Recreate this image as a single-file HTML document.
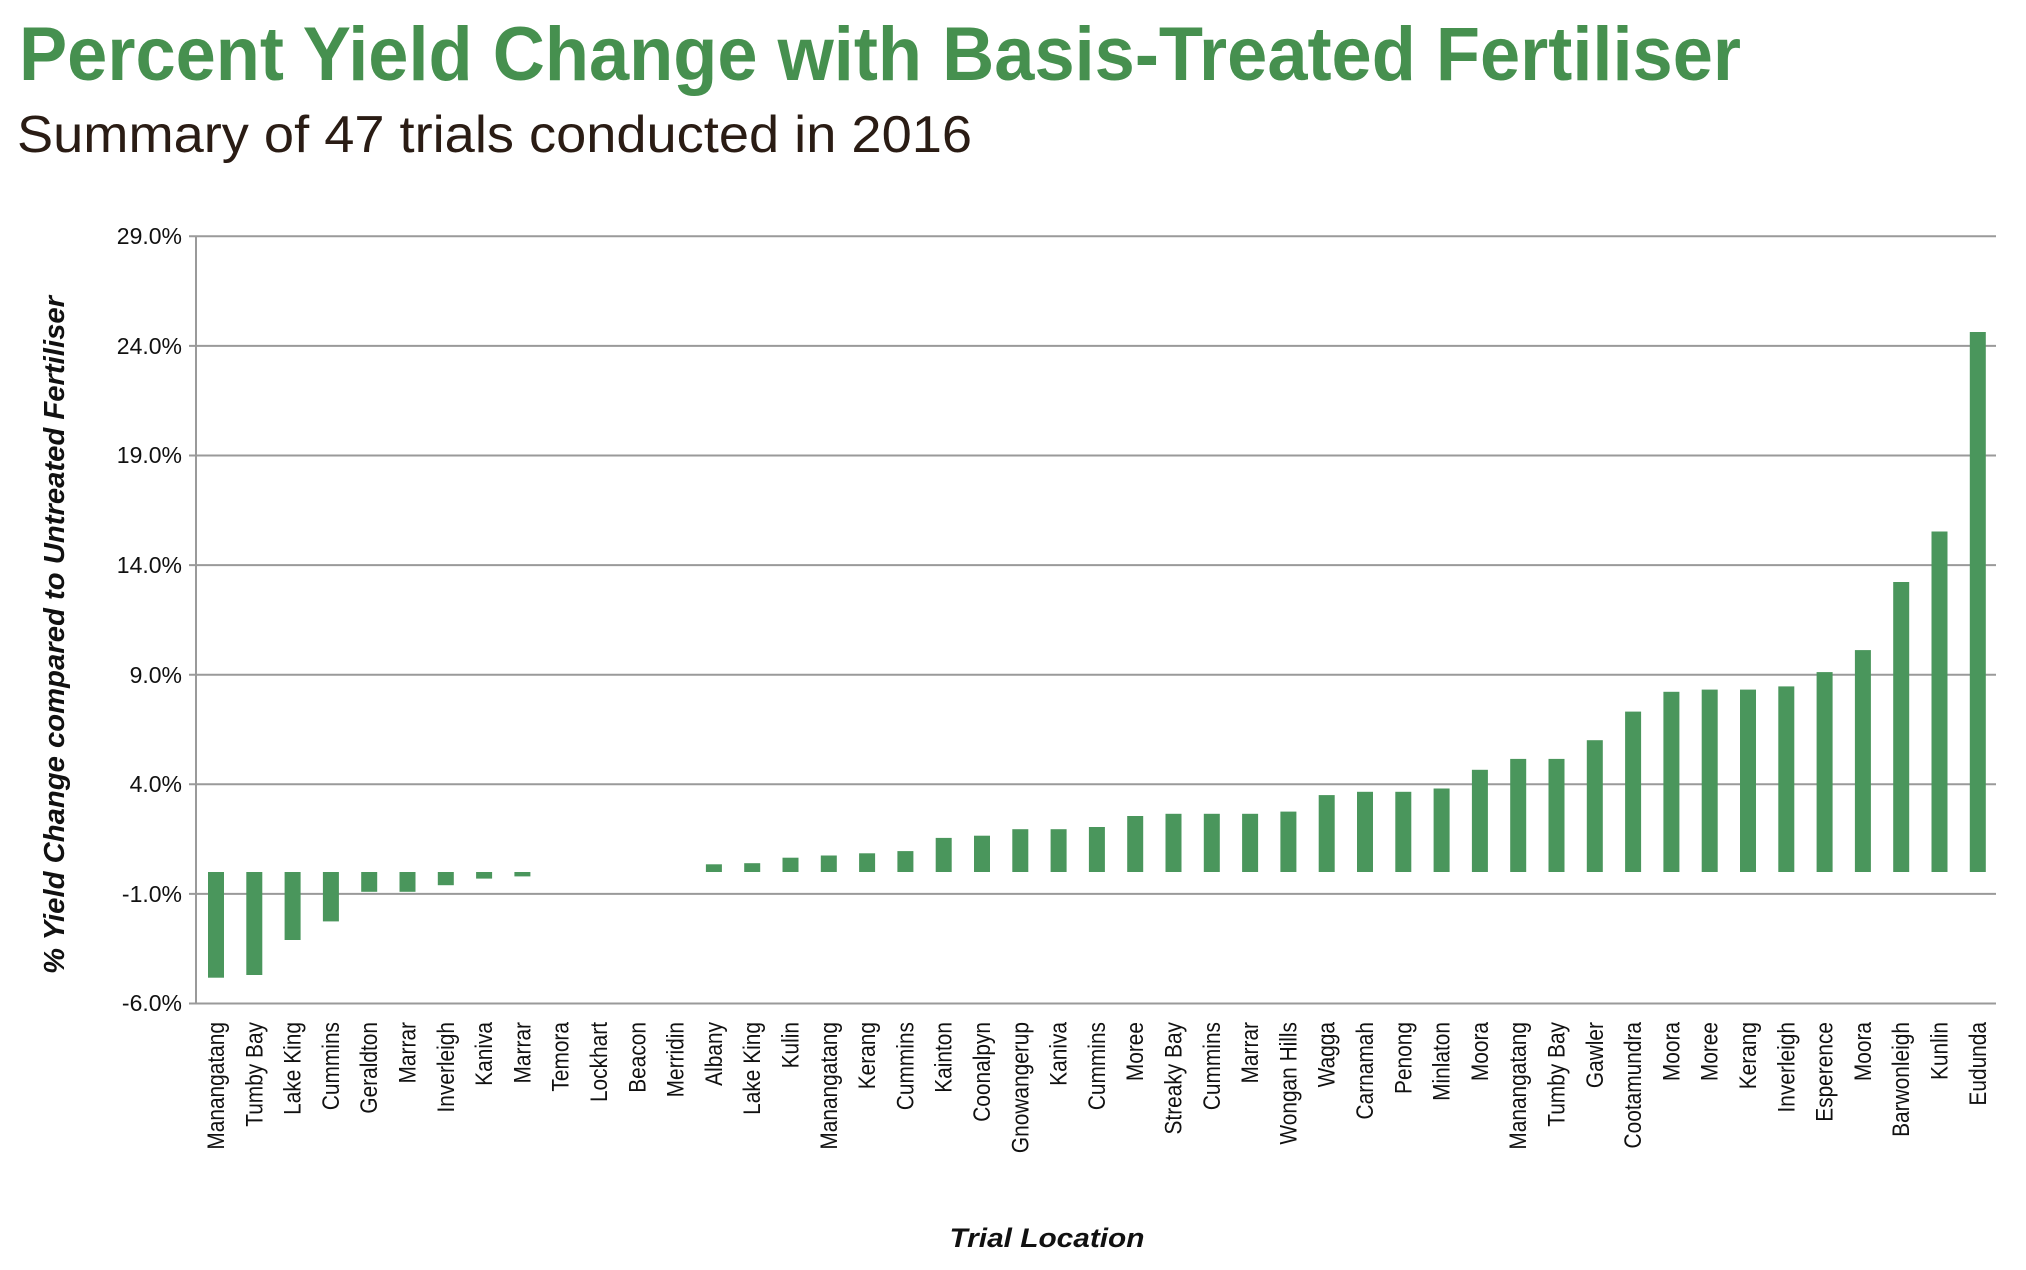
<!DOCTYPE html>
<html><head><meta charset="utf-8"><style>
html,body{margin:0;padding:0;background:#fff;}
svg{display:block;font-family:"Liberation Sans",Arial,sans-serif;}
</style></head><body>
<svg width="2026" height="1270" viewBox="0 0 2026 1270" xmlns="http://www.w3.org/2000/svg">
<text x="19" y="80" font-size="76" font-weight="bold" fill="#46904f" textLength="1722" lengthAdjust="spacingAndGlyphs">Percent Yield Change with Basis-Treated Fertiliser</text>
<text x="17" y="152" font-size="52" fill="#2a1c14" textLength="955" lengthAdjust="spacingAndGlyphs">Summary of 47 trials conducted in 2016</text>
<g stroke="#9a9a9a" stroke-width="2">
<line x1="189" x2="1996" y1="236.3" y2="236.3"/>
<line x1="189" x2="1996" y1="345.9" y2="345.9"/>
<line x1="189" x2="1996" y1="455.5" y2="455.5"/>
<line x1="189" x2="1996" y1="565.1" y2="565.1"/>
<line x1="189" x2="1996" y1="674.7" y2="674.7"/>
<line x1="189" x2="1996" y1="784.3" y2="784.3"/>
<line x1="189" x2="1996" y1="893.9" y2="893.9"/>
<line x1="189" x2="1996" y1="1003.5" y2="1003.5"/>
<line x1="196" x2="196" y1="236" y2="1004"/>
</g>
<g font-size="23" fill="#111" text-anchor="end">
<text x="182" y="244">29.0%</text>
<text x="182" y="354">24.0%</text>
<text x="182" y="463">19.0%</text>
<text x="182" y="573">14.0%</text>
<text x="182" y="683">9.0%</text>
<text x="182" y="792">4.0%</text>
<text x="182" y="902">-1.0%</text>
<text x="182" y="1011">-6.0%</text>
</g>
<g fill="#4a965c">
<rect x="208" y="872" width="16" height="105.7"/>
<rect x="246.3" y="872" width="16" height="103"/>
<rect x="284.6" y="872" width="16" height="68"/>
<rect x="322.9" y="872" width="16" height="49.4"/>
<rect x="361.2" y="872" width="16" height="19.8"/>
<rect x="399.5" y="872" width="16" height="19.8"/>
<rect x="437.8" y="872" width="16" height="13.2"/>
<rect x="476.1" y="872" width="16" height="6.6"/>
<rect x="514.4" y="872" width="16" height="4.4"/>
<rect x="705.9" y="864.3" width="16" height="7.7"/>
<rect x="744.2" y="863.2" width="16" height="8.8"/>
<rect x="782.5" y="857.7" width="16" height="14.3"/>
<rect x="820.8" y="855.5" width="16" height="16.5"/>
<rect x="859.1" y="853.3" width="16" height="18.7"/>
<rect x="897.4" y="851.1" width="16" height="20.9"/>
<rect x="935.7" y="837.9" width="16" height="34.1"/>
<rect x="974" y="835.7" width="16" height="36.3"/>
<rect x="1012.3" y="829.2" width="16" height="42.8"/>
<rect x="1050.6" y="829.2" width="16" height="42.8"/>
<rect x="1088.9" y="827" width="16" height="45"/>
<rect x="1127.2" y="816" width="16" height="56"/>
<rect x="1165.5" y="813.8" width="16" height="58.2"/>
<rect x="1203.8" y="813.8" width="16" height="58.2"/>
<rect x="1242.1" y="813.8" width="16" height="58.2"/>
<rect x="1280.4" y="811.6" width="16" height="60.4"/>
<rect x="1318.7" y="795.1" width="16" height="76.9"/>
<rect x="1357" y="791.8" width="16" height="80.2"/>
<rect x="1395.3" y="791.8" width="16" height="80.2"/>
<rect x="1433.6" y="788.5" width="16" height="83.5"/>
<rect x="1471.9" y="769.8" width="16" height="102.2"/>
<rect x="1510.2" y="758.9" width="16" height="113.1"/>
<rect x="1548.5" y="758.9" width="16" height="113.1"/>
<rect x="1586.8" y="740.2" width="16" height="131.8"/>
<rect x="1625.1" y="711.6" width="16" height="160.4"/>
<rect x="1663.4" y="691.8" width="16" height="180.2"/>
<rect x="1701.7" y="689.6" width="16" height="182.4"/>
<rect x="1740" y="689.6" width="16" height="182.4"/>
<rect x="1778.3" y="686.4" width="16" height="185.6"/>
<rect x="1816.6" y="672.1" width="16" height="199.9"/>
<rect x="1854.9" y="650.1" width="16" height="221.9"/>
<rect x="1893.2" y="582" width="16" height="290"/>
<rect x="1931.5" y="531.5" width="16" height="340.5"/>
<rect x="1969.8" y="332" width="16" height="540"/>
</g>
<g font-size="24" fill="#111" text-anchor="end">
<text transform="translate(224,1022) rotate(-90) scale(0.87,1)">Manangatang</text>
<text transform="translate(262.3,1022) rotate(-90) scale(0.87,1)">Tumby Bay</text>
<text transform="translate(300.6,1022) rotate(-90) scale(0.87,1)">Lake King</text>
<text transform="translate(338.9,1022) rotate(-90) scale(0.87,1)">Cummins</text>
<text transform="translate(377.2,1022) rotate(-90) scale(0.87,1)">Geraldton</text>
<text transform="translate(415.5,1022) rotate(-90) scale(0.87,1)">Marrar</text>
<text transform="translate(453.8,1022) rotate(-90) scale(0.87,1)">Inverleigh</text>
<text transform="translate(492.1,1022) rotate(-90) scale(0.87,1)">Kaniva</text>
<text transform="translate(530.4,1022) rotate(-90) scale(0.87,1)">Marrar</text>
<text transform="translate(568.7,1022) rotate(-90) scale(0.87,1)">Temora</text>
<text transform="translate(607,1022) rotate(-90) scale(0.87,1)">Lockhart</text>
<text transform="translate(645.3,1022) rotate(-90) scale(0.87,1)">Beacon</text>
<text transform="translate(683.6,1022) rotate(-90) scale(0.87,1)">Merridin</text>
<text transform="translate(721.9,1022) rotate(-90) scale(0.87,1)">Albany</text>
<text transform="translate(760.2,1022) rotate(-90) scale(0.87,1)">Lake King</text>
<text transform="translate(798.5,1022) rotate(-90) scale(0.87,1)">Kulin</text>
<text transform="translate(836.8,1022) rotate(-90) scale(0.87,1)">Manangatang</text>
<text transform="translate(875.1,1022) rotate(-90) scale(0.87,1)">Kerang</text>
<text transform="translate(913.4,1022) rotate(-90) scale(0.87,1)">Cummins</text>
<text transform="translate(951.7,1022) rotate(-90) scale(0.87,1)">Kainton</text>
<text transform="translate(990,1022) rotate(-90) scale(0.87,1)">Coonalpyn</text>
<text transform="translate(1028.3,1022) rotate(-90) scale(0.87,1)">Gnowangerup</text>
<text transform="translate(1066.6,1022) rotate(-90) scale(0.87,1)">Kaniva</text>
<text transform="translate(1104.9,1022) rotate(-90) scale(0.87,1)">Cummins</text>
<text transform="translate(1143.2,1022) rotate(-90) scale(0.87,1)">Moree</text>
<text transform="translate(1181.5,1022) rotate(-90) scale(0.87,1)">Streaky Bay</text>
<text transform="translate(1219.8,1022) rotate(-90) scale(0.87,1)">Cummins</text>
<text transform="translate(1258.1,1022) rotate(-90) scale(0.87,1)">Marrar</text>
<text transform="translate(1296.4,1022) rotate(-90) scale(0.87,1)">Wongan Hills</text>
<text transform="translate(1334.7,1022) rotate(-90) scale(0.87,1)">Wagga</text>
<text transform="translate(1373,1022) rotate(-90) scale(0.87,1)">Carnamah</text>
<text transform="translate(1411.3,1022) rotate(-90) scale(0.87,1)">Penong</text>
<text transform="translate(1449.6,1022) rotate(-90) scale(0.87,1)">Minlaton</text>
<text transform="translate(1487.9,1022) rotate(-90) scale(0.87,1)">Moora</text>
<text transform="translate(1526.2,1022) rotate(-90) scale(0.87,1)">Manangatang</text>
<text transform="translate(1564.5,1022) rotate(-90) scale(0.87,1)">Tumby Bay</text>
<text transform="translate(1602.8,1022) rotate(-90) scale(0.87,1)">Gawler</text>
<text transform="translate(1641.1,1022) rotate(-90) scale(0.87,1)">Cootamundra</text>
<text transform="translate(1679.4,1022) rotate(-90) scale(0.87,1)">Moora</text>
<text transform="translate(1717.7,1022) rotate(-90) scale(0.87,1)">Moree</text>
<text transform="translate(1756,1022) rotate(-90) scale(0.87,1)">Kerang</text>
<text transform="translate(1794.3,1022) rotate(-90) scale(0.87,1)">Inverleigh</text>
<text transform="translate(1832.6,1022) rotate(-90) scale(0.87,1)">Esperence</text>
<text transform="translate(1870.9,1022) rotate(-90) scale(0.87,1)">Moora</text>
<text transform="translate(1909.2,1022) rotate(-90) scale(0.87,1)">Barwonleigh</text>
<text transform="translate(1947.5,1022) rotate(-90) scale(0.87,1)">Kunlin</text>
<text transform="translate(1985.8,1022) rotate(-90) scale(0.87,1)">Eudunda</text>
</g>
<text x="1047" y="1247" font-size="27" font-weight="bold" font-style="italic" fill="#111" text-anchor="middle" textLength="195" lengthAdjust="spacingAndGlyphs">Trial Location</text>
<text transform="translate(64,635) rotate(-90)" font-size="29" font-weight="bold" font-style="italic" fill="#111" text-anchor="middle" textLength="678" lengthAdjust="spacingAndGlyphs">% Yield Change compared to Untreated Fertiliser</text>
</svg>
</body></html>
